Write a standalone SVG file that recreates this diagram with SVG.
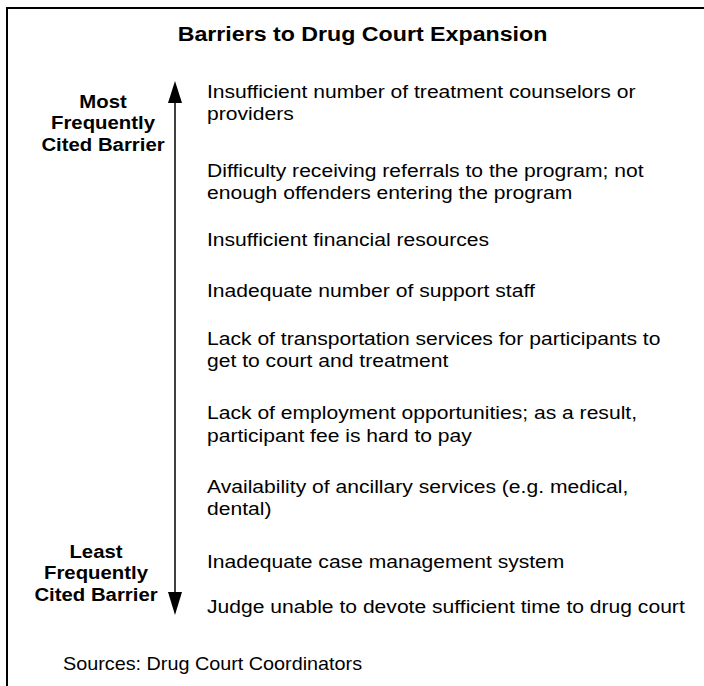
<svg xmlns="http://www.w3.org/2000/svg" width="704" height="686" viewBox="0 0 704 686">
  <style>
    text { font-family: "Liberation Sans", Arial, sans-serif; fill: #000; }
    .title { font-size: 20px; font-weight: bold; text-anchor: middle; }
    .side { font-size: 18.5px; font-weight: bold; text-anchor: middle; }
    .item { font-size: 18.5px; }
    .note { font-size: 18px; }
    .frame { fill: none; stroke: #000; stroke-width: 2; }
    .axis { stroke: #000; stroke-width: 1.5; fill: none; }
    .tip { fill: #000; }
  </style>
  <rect width="704" height="686" fill="#fff"/>
  <!-- outer frame: only the left and top edges fall inside the page -->
  <path class="frame" d="M7,686 V8 H704"/>

  <g id="title" transform="translate(362.5,40.5) scale(1.16,1)">
    <text class="title" x="0" y="0">Barriers to Drug Court Expansion</text>
  </g>

  <g id="most-cited" transform="translate(103,0) scale(1.1,1)">
    <text class="side" x="0" y="108.3">Most</text>
    <text class="side" x="0" y="129.5">Frequently</text>
    <text class="side" x="0" y="151">Cited Barrier</text>
  </g>

  <g id="least-cited" transform="translate(96,0) scale(1.1,1)">
    <text class="side" x="0" y="558.3">Least</text>
    <text class="side" x="0" y="579.5">Frequently</text>
    <text class="side" x="0" y="601">Cited Barrier</text>
  </g>

  <!-- double-headed ranking axis -->
  <g id="connectors">
    <line class="axis" x1="175" y1="102" x2="175" y2="593"/>
    <path class="tip" d="M175,81 L182,103 L168,103 Z"/>
    <path class="tip" d="M175,615 L182,592 L168,592 Z"/>
  </g>

  <g id="barriers" transform="translate(207,0) scale(1.14,1)">
    <g id="b1">
      <text class="item" x="0" y="98.3">Insufficient number of treatment counselors or</text>
      <text class="item" x="0" y="120.5">providers</text>
    </g>
    <g id="b2">
      <text class="item" x="0" y="176.7">Difficulty receiving referrals to the program; not</text>
      <text class="item" x="0" y="198.9">enough offenders entering the program</text>
    </g>
    <g id="b3">
      <text class="item" x="0" y="246">Insufficient financial resources</text>
    </g>
    <g id="b4">
      <text class="item" x="0" y="296.7">Inadequate number of support staff</text>
    </g>
    <g id="b5">
      <text class="item" x="0" y="345">Lack of transportation services for participants to</text>
      <text class="item" x="0" y="367.5">get to court and treatment</text>
    </g>
    <g id="b6">
      <text class="item" x="0" y="419.3">Lack of employment opportunities; as a result,</text>
      <text class="item" x="0" y="441.7">participant fee is hard to pay</text>
    </g>
    <g id="b7">
      <text class="item" x="0" y="492.7">Availability of ancillary services (e.g. medical,</text>
      <text class="item" x="0" y="515">dental)</text>
    </g>
    <g id="b8">
      <text class="item" x="0" y="568.3">Inadequate case management system</text>
    </g>
    <g id="b9">
      <text class="item" x="0" y="613.3">Judge unable to devote sufficient time to drug court</text>
    </g>
  </g>

  <g id="source" transform="translate(63,670) scale(1.1,1)">
    <text class="note" x="0" y="0">Sources: Drug Court Coordinators</text>
  </g>
</svg>
